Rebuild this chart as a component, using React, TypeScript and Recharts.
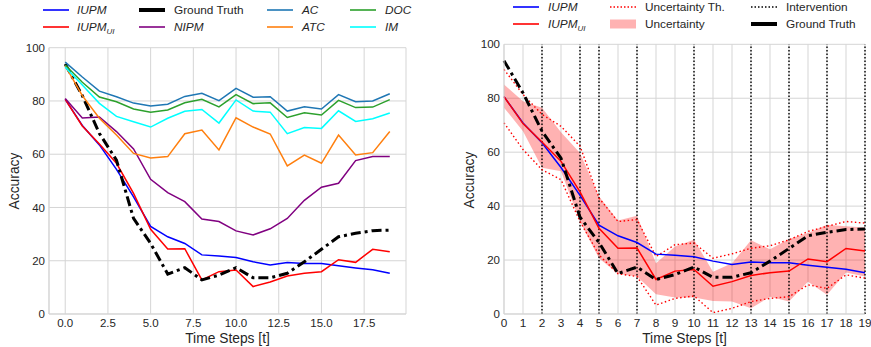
import React from "react";
import {
  LineChart,
  ComposedChart,
  Line,
  Area,
  XAxis,
  YAxis,
  CartesianGrid,
  ReferenceLine,
} from "recharts";

const steps = [0, 1, 2, 3, 4, 5, 6, 7, 8, 9, 10, 11, 12, 13, 14, 15, 16, 17, 18, 19];

const iupm = [80.6, 70.8, 63.5, 54.3, 44, 32.9, 29, 26.5, 22.2, 21.8, 21.2, 19.6, 18.4, 19.3, 19, 19, 18.1, 17.3, 16.6, 15.3];
const iupmUi = [80.6, 70.6, 63.8, 56.6, 45.3, 31.8, 24.4, 24.5, 12.8, 15.9, 16.5, 10.3, 12, 14.3, 15.3, 15.9, 20.4, 19.4, 24.3, 23.4];
const groundTruth = [93.9, 82, 67.8, 57.8, 35.9, 26.5, 15, 17.4, 12.8, 14.6, 17.4, 13.6, 13.6, 15.3, 19.6, 24.3, 29, 30.3, 31.3, 31.5];
const nipm = [80.9, 73.6, 74, 68.5, 62, 50.6, 45.6, 42.2, 35.7, 34.7, 31.2, 29.7, 32, 35.9, 42.7, 47.6, 49.1, 57.6, 59.1, 59.1];
const ac = [94.6, 89, 83.7, 81.6, 79.2, 78.1, 78.8, 81.7, 82.9, 80.1, 84.7, 81.4, 81.6, 76.2, 77.8, 77, 82.4, 79.7, 80, 82.7];
const atc = [93.2, 82, 73.5, 67.2, 60.3, 58.6, 59.1, 67.7, 69.1, 61.6, 73.7, 70.2, 67.6, 55.6, 59.7, 56.6, 67.2, 59.7, 60.6, 68.5];
const doc = [93.5, 87, 81.5, 79.7, 77, 75.8, 76.6, 79.3, 80.6, 77.8, 82.4, 79, 79.3, 73.8, 75.6, 74.7, 80.2, 77.5, 77.7, 80.5];
const im = [92.7, 86, 79.1, 74.2, 72.2, 70.2, 73.5, 76.1, 76.8, 71.7, 80.4, 76.2, 75.8, 67.7, 70, 69.7, 76.3, 72.3, 73.3, 75.5];

const bandLow = [76.5, 67.8, 54.2, 52.9, 34.3, 20.7, 14.9, 13.9, 7.3, 6.1, 6.1, 4.8, 4.6, 2.1, 6.4, 4.6, 12, 7.1, 15.4, 13.9];
const bandHigh = [85.1, 78.9, 76.5, 67.4, 59.7, 43.6, 34.7, 36.4, 18.8, 25, 27.5, 15.7, 18.8, 27.3, 24, 27.8, 30, 33.1, 32.5, 32.1];
const thLow = [70.9, 61, 53.5, 49.8, 34.3, 21.9, 14.9, 13.9, 3.3, 5.8, 6.7, 0.5, 2.1, 4.6, 5.8, 6.4, 10.8, 9.5, 14.5, 13.3];
const thHigh = [90.7, 81.4, 74, 69.6, 62.2, 43, 34.3, 35, 21.3, 25.7, 26.3, 20.7, 22.3, 24.4, 25.3, 27.5, 30.6, 32.5, 34.3, 33.7];

const interventions = [2, 4, 5, 7, 10, 13, 15, 17, 19];

const leftTicks = [0, 2.5, 5, 7.5, 10, 12.5, 15, 17.5];
const yTicks = [0, 20, 40, 60, 80, 100];

const FONT = "'Liberation Sans', Arial, sans-serif";
const TXT = "#262626";
const GRID = "#d5d5d5";
const GT_DASH = "10 4 3 4";

const leftData = steps.map((t, i) => ({
  t,
  iupm: iupm[i],
  iupmUi: iupmUi[i],
  gt: groundTruth[i],
  nipm: nipm[i],
  ac: ac[i],
  atc: atc[i],
  doc: doc[i],
  im: im[i],
}));

const rightData = steps.map((t, i) => ({
  t,
  iupm: iupm[i],
  iupmUi: iupmUi[i],
  gt: groundTruth[i],
  band: [bandLow[i], bandHigh[i]],
  thLow: thLow[i],
  thHigh: thHigh[i],
}));

const tickStyle = { fill: TXT, fontSize: 11.5, fontFamily: FONT };

function Swatch({ kind, color }: { kind: string; color: string }) {
  return (
    <svg width={26} height={12} style={{ display: "block" }}>
      {kind === "box" ? (
        <rect x={0} y={1.5} width={26} height={9} fill="rgba(255,0,0,0.3)" />
      ) : (
        <line
          x1={0}
          y1={6}
          x2={26}
          y2={6}
          stroke={color}
          strokeWidth={kind === "thick" ? 4 : 1.6}
          strokeDasharray={kind === "dot" ? "1.5 2" : undefined}
        />
      )}
    </svg>
  );
}

function LegendItem({ x, y, tx, kind, color, children }: any) {
  return (
    <>
      <div style={{ position: "absolute", left: x, top: y - 6 }}>
        <Swatch kind={kind} color={color} />
      </div>
      <div
        style={{
          position: "absolute",
          left: tx,
          top: y - 8,
          fontFamily: FONT,
          fontSize: 11.8,
          color: TXT,
          lineHeight: "16px",
          whiteSpace: "nowrap",
        }}
      >
        {children}
      </div>
    </>
  );
}

const Sub = ({ name }: { name: string }) => (
  <i>
    {name}
    <sub style={{ fontSize: 8, verticalAlign: "-3px" }}>UI</sub>
  </i>
);

function AxisTitle({ x, y, rotate, children }: any) {
  return (
    <div
      style={{
        position: "absolute",
        left: x,
        top: y,
        transform: `translate(-50%, -50%)${rotate ? " rotate(-90deg)" : ""}`,
        fontFamily: FONT,
        fontSize: 13.8,
        color: TXT,
        whiteSpace: "nowrap",
      }}
    >
      {children}
    </div>
  );
}

export default function App() {
  return (
    <div style={{ position: "absolute", left: 0, top: 0, width: 871, height: 347, background: "#fff" }}>
      <div style={{ position: "absolute", left: 0, top: 0 }}>
        <LineChart width={435} height={347} data={leftData} margin={{ top: 47.7, right: 29, bottom: 0, left: 0 }}>
          <CartesianGrid stroke={GRID} strokeWidth={1} />
          <XAxis
            dataKey="t"
            type="number"
            domain={[-0.95, 19.95]}
            ticks={leftTicks}
            tickFormatter={(v: number) => v.toFixed(1)}
            height={33}
            tickLine={false}
            tickSize={0}
            tickMargin={5}
            axisLine={{ stroke: GRID }}
            tick={tickStyle}
            allowDataOverflow
          />
          <XAxis xAxisId="top" orientation="top" type="number" domain={[0, 1]} height={0} tick={false} tickLine={false} axisLine={{ stroke: GRID }} />
          <YAxis
            type="number"
            domain={[0, 100]}
            ticks={yTicks}
            width={49}
            tickLine={false}
            tickSize={0}
            tickMargin={4}
            axisLine={{ stroke: GRID }}
            tick={tickStyle}
          />
          <YAxis yAxisId="right" orientation="right" type="number" domain={[0, 1]} width={0} tick={false} tickLine={false} axisLine={{ stroke: GRID }} />
          <Line dataKey="iupm" stroke="#0000ff" strokeWidth={1.5} dot={false} isAnimationActive={false} />
          <Line dataKey="iupmUi" stroke="#ff0000" strokeWidth={1.5} dot={false} isAnimationActive={false} />
          <Line dataKey="gt" stroke="#000" strokeWidth={3} strokeDasharray={GT_DASH} dot={false} isAnimationActive={false} />
          <Line dataKey="nipm" stroke="#800080" strokeWidth={1.5} dot={false} isAnimationActive={false} />
          <Line dataKey="ac" stroke="#1f77b4" strokeWidth={1.5} dot={false} isAnimationActive={false} />
          <Line dataKey="atc" stroke="#ff7f0e" strokeWidth={1.5} dot={false} isAnimationActive={false} />
          <Line dataKey="doc" stroke="#2ca02c" strokeWidth={1.5} dot={false} isAnimationActive={false} />
          <Line dataKey="im" stroke="#00ffff" strokeWidth={1.5} dot={false} isAnimationActive={false} />
        </LineChart>
      </div>

      <div style={{ position: "absolute", left: 436, top: 0 }}>
        <ComposedChart width={435} height={347} data={rightData} margin={{ top: 44.3, right: 6, bottom: 0, left: 0 }}>
          <CartesianGrid stroke={GRID} strokeWidth={1} />
          <XAxis
            dataKey="t"
            type="number"
            domain={[0, 19]}
            ticks={steps}
            interval={0}
            height={33}
            tickLine={false}
            tickSize={0}
            tickMargin={5}
            axisLine={{ stroke: GRID }}
            tick={{ ...tickStyle, fontSize: 11.8 }}
          />
          <XAxis xAxisId="top" orientation="top" type="number" domain={[0, 1]} height={0} tick={false} tickLine={false} axisLine={{ stroke: GRID }} />
          <YAxis
            type="number"
            domain={[0, 100]}
            ticks={yTicks}
            width={68}
            tickLine={false}
            tickSize={0}
            tickMargin={4}
            axisLine={{ stroke: GRID }}
            tick={tickStyle}
          />
          <YAxis yAxisId="right" orientation="right" type="number" domain={[0, 1]} width={0} tick={false} tickLine={false} axisLine={{ stroke: GRID }} />
          <Area dataKey="band" type="linear" stroke="none" fill="#ff0000" fillOpacity={0.3} isAnimationActive={false} />
          {interventions.map((x) => (
            <ReferenceLine key={x} x={x} stroke="#000" strokeWidth={1.4} strokeDasharray="1.5 2" />
          ))}
          <Line dataKey="thHigh" stroke="#ff0000" strokeWidth={1.4} strokeDasharray="1.5 2.5" dot={false} isAnimationActive={false} />
          <Line dataKey="thLow" stroke="#ff0000" strokeWidth={1.4} strokeDasharray="1.5 2.5" dot={false} isAnimationActive={false} />
          <Line dataKey="iupm" stroke="#0000ff" strokeWidth={1.5} dot={false} isAnimationActive={false} />
          <Line dataKey="iupmUi" stroke="#ff0000" strokeWidth={1.5} dot={false} isAnimationActive={false} />
          <Line dataKey="gt" stroke="#000" strokeWidth={3} strokeDasharray={GT_DASH} dot={false} isAnimationActive={false} />
        </ComposedChart>
      </div>

      <AxisTitle x={14} y={181}>
        <span style={{ display: "inline-block", transform: "rotate(-90deg)" }}>Accuracy</span>
      </AxisTitle>
      <AxisTitle x={227.5} y={338}>Time Steps [t]</AxisTitle>
      <AxisTitle x={469} y={180}>
        <span style={{ display: "inline-block", transform: "rotate(-90deg)" }}>Accuracy</span>
      </AxisTitle>
      <AxisTitle x={684.5} y={338}>Time Steps [t]</AxisTitle>

      <LegendItem x={43} y={9.5} tx={77} kind="line" color="#0000ff"><i>IUPM</i></LegendItem>
      <LegendItem x={43} y={27} tx={77} kind="line" color="#ff0000"><Sub name="IUPM" /></LegendItem>
      <LegendItem x={139} y={9.5} tx={174} kind="thick" color="#000">Ground Truth</LegendItem>
      <LegendItem x={139} y={27} tx={174} kind="line" color="#800080"><i>NIPM</i></LegendItem>
      <LegendItem x={267} y={9.5} tx={302} kind="line" color="#1f77b4"><i>AC</i></LegendItem>
      <LegendItem x={267} y={27} tx={302} kind="line" color="#ff7f0e"><i>ATC</i></LegendItem>
      <LegendItem x={350} y={9.5} tx={385} kind="line" color="#2ca02c"><i>DOC</i></LegendItem>
      <LegendItem x={350} y={27} tx={385} kind="line" color="#00ffff"><i>IM</i></LegendItem>

      <LegendItem x={513} y={7} tx={548} kind="line" color="#0000ff"><i>IUPM</i></LegendItem>
      <LegendItem x={513} y={24} tx={548} kind="line" color="#ff0000"><Sub name="IUPM" /></LegendItem>
      <LegendItem x={610} y={7} tx={645} kind="dot" color="#ff0000">Uncertainty Th.</LegendItem>
      <LegendItem x={610} y={24} tx={645} kind="box" color="#ff0000">Uncertainty</LegendItem>
      <LegendItem x={751} y={7} tx={786} kind="dot" color="#000">Intervention</LegendItem>
      <LegendItem x={751} y={24} tx={786} kind="thick" color="#000">Ground Truth</LegendItem>
    </div>
  );
}
